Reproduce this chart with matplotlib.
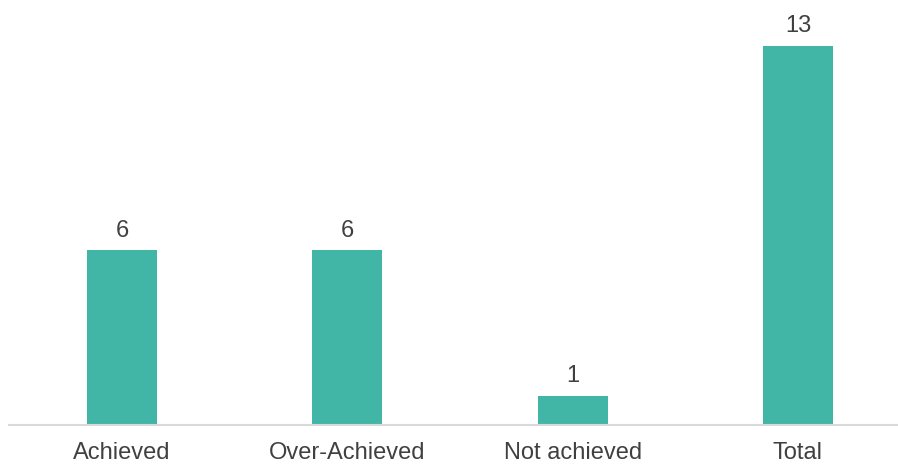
import matplotlib
matplotlib.use("Agg")
import matplotlib.pyplot as plt

categories = ["Achieved", "Over-Achieved", "Not achieved", "Total"]
counts = [6, 6, 1, 13]

bar_color = "#42b6a6"
text_color = "#404040"

plt.rcParams['font.family'] = ['Liberation Sans', 'DejaVu Sans']

fig = plt.figure(figsize=(8.98, 4.65), dpi=100)
ax = fig.add_axes([9 / 898, 40 / 465, 889 / 898, 423 / 465])

x = range(len(categories))
bars = ax.bar(x, counts, width=0.31, color=bar_color, zorder=2)

for xi, v in zip(x, counts):
    ax.annotate(str(v), (xi, v), xytext=(0, 6), textcoords="offset points",
                ha="center", va="bottom", fontsize=17, color=text_color)

ax.set_xlim(-0.5015, 3.444)
ax.set_ylim(0, 14.5)
ax.set_xticks(list(x))
ax.set_xticklabels(categories, fontsize=17, color=text_color)
ax.tick_params(axis="x", length=0, pad=12)
ax.set_yticks([])

for side in ["top", "right", "left"]:
    ax.spines[side].set_visible(False)
ax.spines["bottom"].set_color("#d9d9d9")
ax.spines["bottom"].set_linewidth(1.5)

fig.savefig("out.png", dpi=100)
